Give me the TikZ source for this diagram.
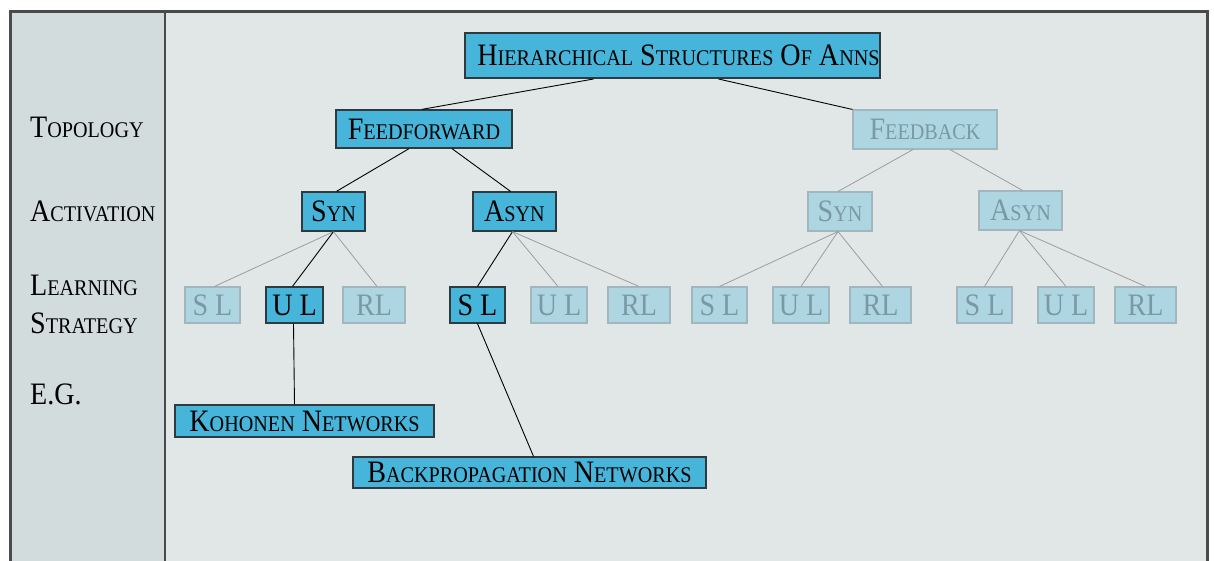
\documentclass[tikz,border=0pt]{standalone}
\usepackage{fontspec}
\setmainfont{Liberation Serif}[FakeStretch=0.9]
\newcommand{\capsz}{\fontsize{31.2pt}{34pt}\selectfont}
\newcommand{\smc}[1]{{\fontsize{22.4pt}{24pt}\selectfont #1}}
\definecolor{pagebg}{HTML}{E1E7E7}
\definecolor{sidebg}{HTML}{D3DCDC}
\definecolor{framec}{HTML}{4A4A4A}
\definecolor{activefill}{HTML}{47B5DA}
\definecolor{activeline}{HTML}{2E3A3F}
\definecolor{fadefill}{HTML}{ADD6E2}
\definecolor{fadeline}{HTML}{A2B7BD}
\definecolor{fadetext}{HTML}{7A99A2}
\definecolor{fadeedge}{HTML}{9C9C9C}
\tikzset{
  box/.style={rectangle, inner sep=0pt, font=\capsz},
  onbox/.style={box, fill=activefill, draw=activeline, line width=1.3pt, text=black},
  offbox/.style={box, fill=fadefill, draw=fadeline, line width=1.1pt, text=fadetext},
  onedge/.style={draw=black, line width=0.9pt},
  offedge/.style={draw=fadeedge, line width=0.8pt},
  rowlabel/.style={anchor=base west, inner sep=0pt, font=\capsz},
}
\begin{document}
\begin{tikzpicture}[x=1pt, y=-1pt]
\useasboundingbox (0,0) rectangle (1214,561);
% panels and frame
\fill[pagebg] (10,12) rectangle (1207,561);
\fill[sidebg] (10,12) rectangle (165,561);
\draw[framec, line width=1.5pt] (165,12) -- (165,561);
\draw[framec, line width=3pt] (10,566) -- (10,12) -- (1207,12) -- (1207,566);

% row labels
\node[rowlabel] (lt) at (30,138) {T\smc{OPOLOGY}};
\node[rowlabel] (la) at (30,222) {A\smc{CTIVATION}};
\node[rowlabel] (ll) at (30,295) {L\smc{EARNING}};
\node[rowlabel] (ls) at (30,333) {S\smc{TRATEGY}};
\node[rowlabel] (le) at (30,404) {E.G.};

% tree nodes
\node[onbox, line width=2pt, minimum width=415pt, minimum height=45pt] (root) at (672.5,55.5)
  {\hspace{12pt}H\smc{IERARCHICAL} S\smc{TRUCTURES} O\smc{F} A\smc{NNS}};
\node[onbox, minimum width=176pt, minimum height=38pt] (ff) at (424,129) {F\smc{EEDFORWARD}};
\node[offbox, minimum width=144pt, minimum height=39pt] (fb) at (925,129.5) {F\smc{EEDBACK}};

\node[onbox, minimum width=63pt, minimum height=39pt] (syna) at (333.5,211.5) {S\smc{YN}};
\node[onbox, minimum width=83pt, minimum height=39pt] (asyna) at (514.5,211.5) {A\smc{SYN}};
\node[offbox, minimum width=64pt, minimum height=39pt] (synb) at (840,211.5) {S\smc{YN}};
\node[offbox, minimum width=83pt, minimum height=39pt] (asynb) at (1020.5,210.5) {A\smc{SYN}};

\tikzset{leaf/.style={minimum height=36pt}}
\node[offbox, leaf, minimum width=55pt] (sl1) at (212.5,305) {S L};
\node[onbox,  leaf, minimum width=57pt] (ul1) at (294.5,305) {U L};
\node[offbox, leaf, minimum width=62pt] (rl1) at (374,305) {RL};
\node[onbox,  leaf, minimum width=55pt] (sl2) at (477.5,305) {S L};
\node[offbox, leaf, minimum width=56pt] (ul2) at (559,305) {U L};
\node[offbox, leaf, minimum width=62pt] (rl2) at (639,305) {RL};
\node[offbox, leaf, minimum width=55pt] (sl3) at (719.5,305) {S L};
\node[offbox, leaf, minimum width=56pt] (ul3) at (801,305) {U L};
\node[offbox, leaf, minimum width=61pt] (rl3) at (880.5,305) {RL};
\node[offbox, leaf, minimum width=55pt] (sl4) at (984.5,305) {S L};
\node[offbox, leaf, minimum width=56pt] (ul4) at (1066,305) {U L};
\node[offbox, leaf, minimum width=61pt] (rl4) at (1145.5,305) {RL};

\node[onbox, minimum width=259pt, minimum height=32pt] (koh) at (304.5,421) {K\smc{OHONEN} N\smc{ETWORKS}};
\node[onbox, minimum width=353pt, minimum height=31pt] (bp) at (529.5,472.5) {B\smc{ACKPROPAGATION} N\smc{ETWORKS}};

% connectors
\draw[onedge] ([xshift=-79pt]root.south) -- ([xshift=-2pt]ff.north);
\draw[onedge] ([xshift=46pt]root.south) -- (fb.north west);
\draw[onedge] ([xshift=-15pt]ff.south) -- ([xshift=3pt]syna.north);
\draw[onedge] ([xshift=28pt]ff.south) -- ([xshift=-4pt]asyna.north);
\draw[offedge] ([xshift=-12pt]fb.south) -- ([xshift=-2pt]synb.north);
\draw[offedge] ([xshift=25pt]fb.south) -- ([xshift=2pt]asynb.north);

\draw[offedge] (syna.south) -- ([xshift=2pt]sl1.north);
\draw[onedge]  (syna.south) -- ([xshift=-2pt]ul1.north);
\draw[offedge] (syna.south) -- ([xshift=3pt]rl1.north);
\draw[onedge]  ([xshift=-2pt]asyna.south) -- (sl2.north);
\draw[offedge] ([xshift=-2pt]asyna.south) -- ([xshift=-1pt]ul2.north);
\draw[offedge] ([xshift=-2pt]asyna.south) -- (rl2.north);
\draw[offedge] ([xshift=-2pt]synb.south) -- (sl3.north);
\draw[offedge] ([xshift=-2pt]synb.south) -- (ul3.north);
\draw[offedge] ([xshift=-2pt]synb.south) -- ([xshift=2pt]rl3.north);
\draw[offedge] ([xshift=-1pt]asynb.south) -- (sl4.north);
\draw[offedge] ([xshift=-1pt]asynb.south) -- (ul4.north);
\draw[offedge] ([xshift=-1pt]asynb.south) -- (rl4.north);

\draw[onedge] ([xshift=-1pt]ul1.south) -- ([xshift=-10pt]koh.north);
\draw[onedge] (sl2.south) -- ([xshift=4pt]bp.north);
\end{tikzpicture}
\end{document}
